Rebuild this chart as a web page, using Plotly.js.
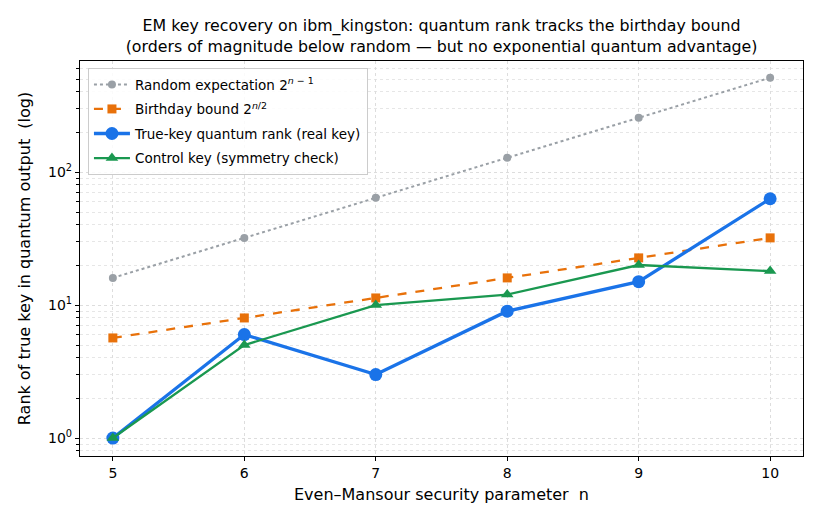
<!DOCTYPE html>
<html>
<head>
<meta charset="utf-8">
<script src="https://cdn.plot.ly/plotly-3.0.1.min.js"></script>
<style>html,body{margin:0;padding:0;background:#fff;}#chart{width:820px;height:524px;}</style>
</head>
<body>
<div id="chart"></div>
<script>
const nValues = [5, 6, 7, 8, 9, 10];
const randomExpectation = [16, 32, 64, 128, 256, 512];
const birthdayBound = [5.66, 8, 11.31, 16, 22.63, 32];
const trueKeyRank = [1, 6, 3, 9, 15, 63];
const controlKeyRank = [1, 5, 10, 12, 20, 18];
const yTickVals = [1, 10, 100];
const yTickText = ['10<sup>0</sup>', '10<sup>1</sup>', '10<sup>2</sup>'];

const minorVals = [];
[0.1, 1, 10, 100].forEach(d => { for (let k = 2; k <= 9; k++) minorVals.push(k * d); });

const font = 'DejaVu Sans, sans-serif';
const traces = [
  {x: nValues, y: randomExpectation, name: 'Random expectation 2<sup><i>n</i> − 1</sup>', mode: 'lines+markers', legendgroup: 'a',
   line: {color: '#9aa0a6', width: 2, dash: 'dot'}, marker: {symbol: 'circle', size: 8, color: '#9aa0a6'}},
  {x: nValues, y: birthdayBound, name: 'Birthday bound 2<sup><i>n</i>/2</sup>', mode: 'lines+markers', legendgroup: 'b',
   line: {color: '#e8710a', width: 2.3, dash: 'dash'}, marker: {symbol: 'square', size: 9, color: '#e8710a'}},
  {x: nValues, y: trueKeyRank, name: 'True-key quantum rank (real key)', mode: 'lines+markers', legendgroup: 'c',
   line: {color: '#1a73e8', width: 3.3}, marker: {symbol: 'circle', size: 13, color: '#1a73e8'}},
  {x: nValues, y: controlKeyRank, name: 'Control key (symmetry check)', mode: 'lines+markers', legendgroup: 'd',
   line: {color: '#1a9850', width: 2.3}, marker: {symbol: 'triangle-up', size: 11, color: '#1a9850'}}
];

const layout = {
  width: 820, height: 524,
  margin: {l: 80, r: 17, t: 61, b: 68},
  paper_bgcolor: '#fff', plot_bgcolor: '#fff',
  font: {family: font, color: '#000', size: 12},
  title: {text: 'EM key recovery on ibm_kingston: quantum rank tracks the birthday bound<br>(orders of magnitude below random — but no exponential quantum advantage)',
          font: {family: font, size: 15.8, color: '#000'}, x: 0.5385, xanchor: 'center', y: 0.94, yanchor: 'top'},
  xaxis: {
    range: [4.75, 10.25], tickvals: nValues, ticks: 'outside', ticklen: 4, tickcolor: '#000',
    showline: true, linecolor: '#000', linewidth: 1.1, mirror: true, zeroline: false,
    showgrid: true, gridcolor: '#dddddd', griddash: 'dot', gridwidth: 1,
    tickfont: {family: font, size: 14},
    title: {text: 'Even–Mansour security parameter  n', font: {family: font, size: 16}, standoff: 8}
  },
  yaxis: {
    type: 'log', range: [Math.log10(0.733), Math.log10(684)],
    tickmode: 'array', tickvals: yTickVals, ticktext: yTickText,
    ticks: 'outside', ticklen: 4, tickcolor: '#000',
    showline: true, linecolor: '#000', linewidth: 1.1, mirror: true, zeroline: false,
    showgrid: true, gridcolor: '#dddddd', griddash: 'dot', gridwidth: 1,
    minor: {tickmode: 'array', tickvals: minorVals, ticks: 'outside', ticklen: 2.5, tickcolor: '#000',
            showgrid: true, gridcolor: '#e6e6e6', griddash: 'dot', gridwidth: 1},
    tickfont: {family: font, size: 14},
    title: {text: 'Rank of true key in quantum output  (log)', font: {family: font, size: 16}, standoff: 13}
  },
  legend: {x: 0.011, y: 0.982, xanchor: 'left', yanchor: 'top', bgcolor: 'rgba(255,255,255,0.85)',
           bordercolor: '#cccccc', borderwidth: 1, font: {family: font, size: 13.5},
           traceorder: 'grouped', tracegroupgap: 4, itemwidth: 36},
  showlegend: true
};

Plotly.newPlot('chart', traces, layout, {staticPlot: true, displayModeBar: false});
</script>
</body>
</html>
